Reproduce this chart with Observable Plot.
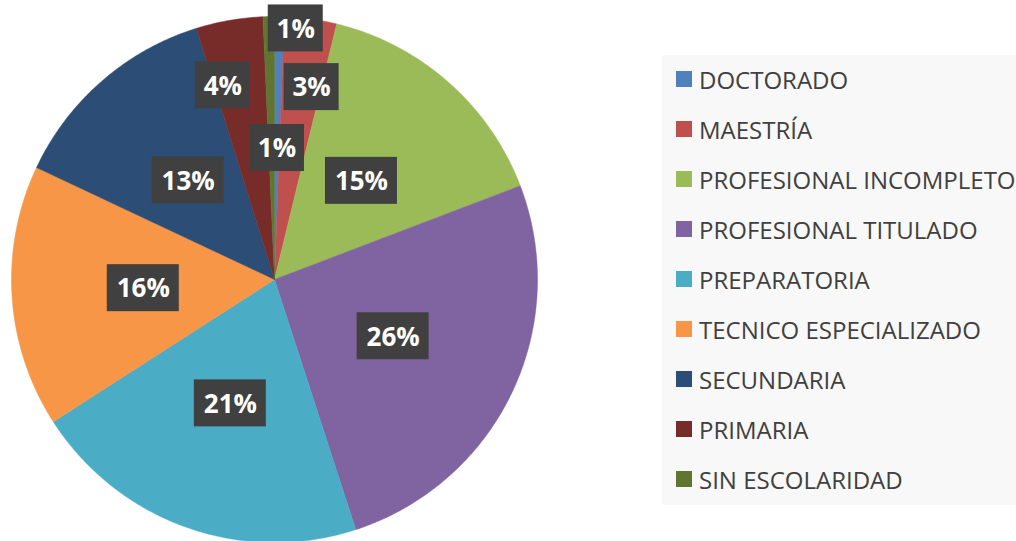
<!DOCTYPE html>
<html><head><meta charset="utf-8">
<script src="https://cdn.jsdelivr.net/npm/d3@7"></script>
<script src="https://cdn.jsdelivr.net/npm/@observablehq/plot@0.6"></script>
<style>
body{margin:0;background:#fff;font-family:"Open Sans",sans-serif;}
#wrap{position:relative;width:1016px;height:541px;overflow:hidden;background:#fff;}
#wrap svg{position:absolute;left:0;top:0;}
#legend{position:absolute;left:662px;top:55px;width:354px;height:450px;background:#f8f8f8;overflow:hidden;}
.item{position:absolute;left:14px;height:24px;display:flex;align-items:center;white-space:nowrap;font-size:24px;color:#404040;}
.sw{width:16px;height:16px;margin-right:7px;flex:none;}
</style></head><body><div id="wrap"><div id="legend"></div></div>
<script>
const categories = ["DOCTORADO","MAESTRÍA","PROFESIONAL INCOMPLETO","PROFESIONAL TITULADO","PREPARATORIA","TECNICO ESPECIALIZADO","SECUNDARIA","PRIMARIA","SIN ESCOLARIDAD"];
const values = [0.6, 3.2, 15.4, 25.8, 20.9, 16.1, 13.2, 4.1, 0.7];
const colors = ["#4F81BD","#C0504D","#9BBB59","#8064A2","#4BACC6","#F79646","#2C4D75","#772C2A","#5F7530"];
// label placement (fraction of radius, angular shift in degrees)
const labelRadius = [0.5, 0.745, 0.5, 0.5, 0.5, 0.5, 0.5, 0.764, 0.958];
const labelShift = [0, 3, 0, 0, 0, 0, 0, -5, 6.1];

const W = 1016, H = 541, cx = 274, cy = 279, R = 263;
const total = d3.sum(values);
const slices = [];
const labels = [];
let acc = 0;
categories.forEach((c, i) => {
  const a0 = acc / total * 2 * Math.PI;
  acc += values[i];
  const a1 = acc / total * 2 * Math.PI;
  const pts = [{x: 0, y: 0}];
  const n = Math.max(2, Math.ceil((a1 - a0) / (Math.PI / 360)));
  for (let k = 0; k <= n; k++) {
    const t = a0 + (a1 - a0) * k / n;
    pts.push({x: Math.sin(t), y: Math.cos(t)});
  }
  pts.push({x: 0, y: 0});
  slices.push({cat: c, color: colors[i], pts});
  const am = (a0 + a1) / 2 + labelShift[i] * Math.PI / 180;
  const txt = Math.round(values[i]) + "%";
  const hw = (17 * txt.length + 21) / 2 / R, hh = 23.5 / R;
  const lx = labelRadius[i] * Math.sin(am), ly = labelRadius[i] * Math.cos(am);
  labels.push({txt, lx, ly, x1: lx - hw, x2: lx + hw, y1: ly - hh, y2: ly + hh});
});
const disc = d3.range(0, 721).map(k => ({x: Math.sin(k / 720 * 2 * Math.PI), y: Math.cos(k / 720 * 2 * Math.PI)}));

const chart = Plot.plot({
  width: W, height: H,
  margin: 0, marginTop: 0, marginRight: 0, marginBottom: 0, marginLeft: 0,
  x: {domain: [-cx / R, (W - cx) / R], axis: null},
  y: {domain: [-(H - cy) / R, cy / R], axis: null},
  style: {background: "transparent"},
  marks: [
    Plot.line(disc, {x: "x", y: "y", fill: "#888", stroke: "none", ariaLabel: "shadow"}),
    ...slices.map(s => Plot.line(s.pts, {x: "x", y: "y", fill: s.color, stroke: s.color, strokeWidth: 0.5})),
    Plot.rect(labels, {x1: "x1", x2: "x2", y1: "y1", y2: "y2", fill: "#404040", ariaLabel: "labelbox"}),
    Plot.text(labels, {x: "lx", y: "ly", text: "txt", fill: "white", fontSize: 26, fontWeight: "bold", fontFamily: "Open Sans", dy: 1})
  ]
});

const svg = d3.select(chart);
const defs = svg.insert("defs", ":first-child");
const pat = defs.append("pattern").attr("id", "dots").attr("patternUnits", "userSpaceOnUse").attr("width", 6).attr("height", 6);
pat.append("rect").attr("width", 6).attr("height", 6).attr("fill", "#404040");
pat.append("rect").attr("x", 2).attr("y", 2).attr("width", 2).attr("height", 2).attr("fill", "#5a5a5a");
svg.selectAll('g[aria-label="labelbox"] rect').attr("fill", "url(#dots)");
svg.select('g[aria-label="labelbox"]').style("filter", "drop-shadow(2px 3px 3px rgba(0,0,0,0.45))");
svg.select('g[aria-label="shadow"]').style("filter", "drop-shadow(0px 2px 16px rgba(0,0,0,0.32))");

const wrap = document.getElementById("wrap");
wrap.insertBefore(chart, wrap.firstChild);

const legend = d3.select("#legend");
categories.forEach((c, i) => {
  const it = legend.append("div").attr("class", "item").style("top", (12 + 50 * i) + "px");
  it.append("div").attr("class", "sw").style("background", colors[i]);
  it.append("span").text(c);
});
</script>
</body></html>
